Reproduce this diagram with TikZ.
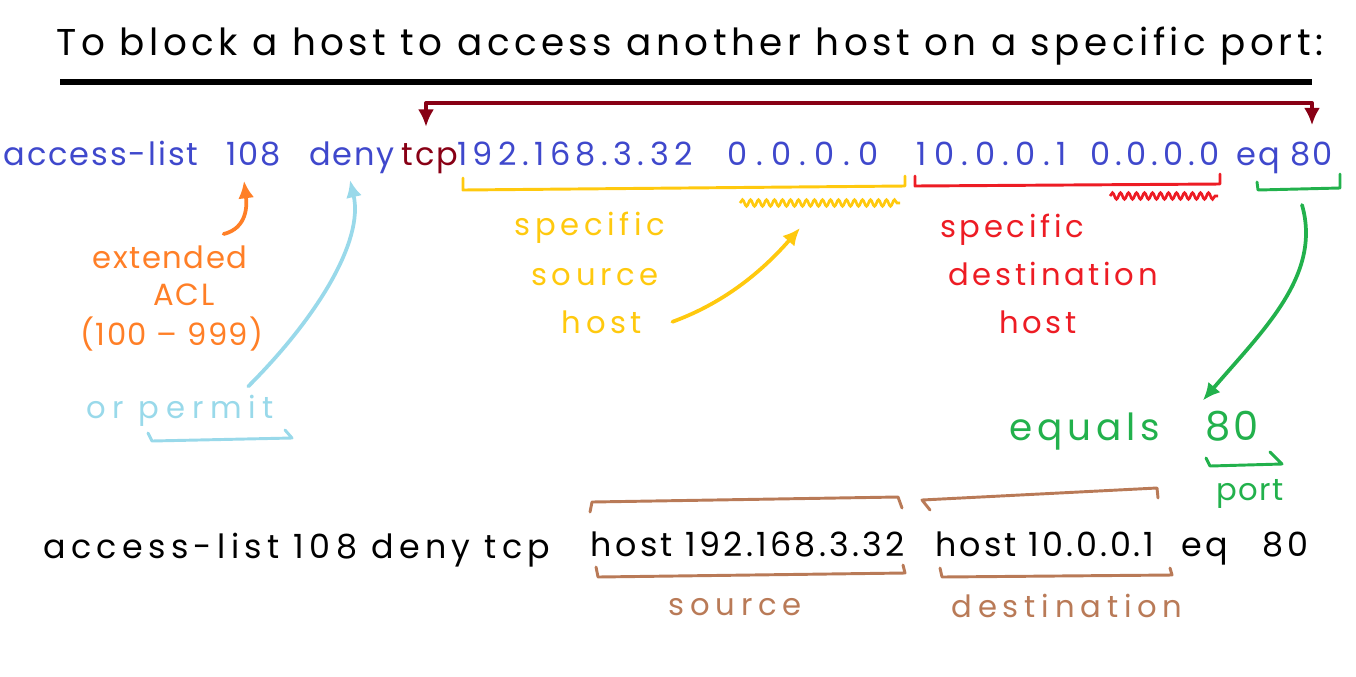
\documentclass[tikz,border=0pt]{standalone}
\usepackage{fontspec}
\setmainfont{Poppins}
\usepackage{tikz}
\usetikzlibrary{arrows.meta,decorations.pathmorphing}
\definecolor{pblue}{RGB}{63,72,204}
\definecolor{pdarkred}{RGB}{136,0,21}
\definecolor{pgold}{RGB}{255,201,14}
\definecolor{pred}{RGB}{237,28,36}
\definecolor{pgreen}{RGB}{34,177,76}
\definecolor{porange}{RGB}{255,127,39}
\definecolor{pturq}{RGB}{153,217,234}
\definecolor{pbrown}{RGB}{185,122,87}
\tikzset{
    cmdtext/.style={text=pblue, anchor=base, inner sep=0pt,
        font=\fontsize{24}{28}\selectfont\addfontfeature{LetterSpace=#1}},
    cmdtext/.default=6,
    plaintext/.style={text=black, anchor=base, inner sep=0pt,
        font=\fontsize{25}{29}\selectfont\addfontfeature{LetterSpace=#1}},
    plaintext/.default=10,
    notetext/.style={anchor=base, inner sep=0pt,
        font=\fontsize{23}{27}\selectfont\addfontfeature{LetterSpace=#1}},
    notetext/.default=12
}
\tikzstyle{pen} = [line width=2.2pt, line cap=round, line join=round]
\tikzstyle{pointer} = [line width=2.8pt, line cap=round,
    -{Latex[length=13pt,width=12pt]}]
\tikzstyle{squiggle} = [line width=2pt, decorate,
    decoration={snake, amplitude=2.5pt, segment length=6pt}]

\begin{document}
\begin{tikzpicture}[x=0.75pt, y=-0.75pt]
\useasboundingbox (0,0) rectangle (1356,676);

\node[anchor=base, inner sep=0pt,
    font=\fontsize{28}{32}\selectfont\addfontfeature{LetterSpace=12}] (title) at (690,55)
    {To block a host to access another host on a specific port:};
\draw[line width=3.8pt] (60,82) -- (1312,82);

% first form of the command
\node[cmdtext] (acl) at (101,165) {access-list};
\node[cmdtext] (num) at (254,165) {108};
\node[cmdtext] (deny) at (352,165) {deny};
\node[cmdtext, text=pdarkred] (tcp) at (430,165) {tcp};
\node[cmdtext=17] (srcip) at (575,165) {192.168.3.32};
\node[cmdtext=26] (srcwc) at (803,165) {0.0.0.0};
\node[cmdtext=22] (dstip) at (992,165) {10.0.0.1};
\node[cmdtext=15] (dstwc) at (1155,165) {0.0.0.0};
\node[cmdtext] (eq) at (1258,165) {eq};
\node[cmdtext] (port) at (1312,165) {80};

\draw[pen, line width=2.6pt, pdarkred, {Latex[length=13pt,width=12pt]}-{Latex[length=13pt,width=12pt]}]
    ([shift={(-4,-16)}]tcp.north) -- ++(0,-24) -| ([shift={(0,-16)}]port.north);

\draw[pen, pgold] (463,178) -- (463,190) -- (905,186) -- (905,176);
\draw[pen, pred] (915,176) -- (915,186) -- (1220,184) -- (1220,174);
\draw[pen, pgreen] (1257,182) -- (1258,190) -- (1340,188) -- (1340,174);
\coordinate (srcwave) at (740,203);
\coordinate (dstwave) at (1110,196);
\draw[squiggle, pgold] (srcwave) -- ++(160,0);
\draw[squiggle, pred] (dstwave) -- ++(108,0);
\coordinate (portbrace) at (1302,205);

\node[notetext=5, text=porange] (ext) at (170,268) {extended};
\node[notetext=5, text=porange] (extacl) at (184,305) {ACL};
\node[notetext=5, text=porange] (extrange) at (172,345) {(100 -- 999)};
\draw[pointer, porange] ([shift={(-24,-11)}]ext.north east)
    .. controls +(24,-6) and +(3,24) .. ([shift={(-10,15)}]num.south);

\node[notetext=22, text=pturq] (permit) at (180,418) {or permit};
\draw[pen, pturq] (148,433) -- (152,441) -- (292,438) -- (285,430);
\draw[pointer, pturq] ([shift={(-26,-8)}]permit.north east)
    .. controls +(70,-70) and +(14,60) .. ([shift={(-2,15)}]deny.base);

\node[notetext=15, text=pgold] (srcspec) at (590,235) {specific};
\node[notetext=15, text=pgold] (srcword) at (595,285) {source};
\node[notetext=15, text=pgold] (srchost) at (602,333) {host};
\draw[pointer, pgold] ([shift={(30,0)}]srchost.east)
    .. controls +(55,-20) and +(-35,40) .. ([shift={(60,25)}]srcwave);

\node[notetext, text=pred] (dstspec) at (1012,237) {specific};
\node[notetext, text=pred] (dstword) at (1053,285) {destination};
\node[notetext, text=pred] (dsthost) at (1038,333) {host};

\node[notetext, text=pgreen, font=\fontsize{28}{32}\selectfont\addfontfeature{LetterSpace=13}] (equals) at (1085,440) {equals};
\node[notetext, text=pgreen, font=\fontsize{30}{34}\selectfont\addfontfeature{LetterSpace=8}] (eighty) at (1232,440) {80};
\draw[pen, pgreen] (1206,458) -- (1210,466) -- (1282,464) -- (1270,452);
\node[notetext=4, text=pgreen] (portword) at (1250,500) {port};
\draw[pointer, pgreen] (portbrace)
    .. controls +(20,70) and +(60,-70) .. ([shift={(-2,-10)}]eighty.north west);

% second form of the command
\node[plaintext=16] (acl2) at (297,558) {access-list 108 deny tcp};
\node[plaintext=10] (srchost2) at (748,556) {host 192.168.3.32};
\node[plaintext=9] (dsthost2) at (1045,556) {host 10.0.0.1};
\node[plaintext=10] (eq2) at (1245,556) {eq\hspace{26pt}80};

\draw[pen, pbrown] (590,512) -- (592,502) -- (898,497) -- (902,508);
\draw[pen, pbrown] (596,567) -- (598,577) -- (905,573) -- (903,565);
\draw[pen, pbrown] (930,510) -- (922,500) -- (1157,488) -- (1158,498);
\draw[pen, pbrown] (940,568) -- (942,577) -- (1172,575) -- (1170,568);
\node[notetext=19, text=pbrown] (srclabel) at (735,615) {source};
\node[notetext=19, text=pbrown] (dstlabel) at (1067,617) {destination};
\end{tikzpicture}
\end{document}
